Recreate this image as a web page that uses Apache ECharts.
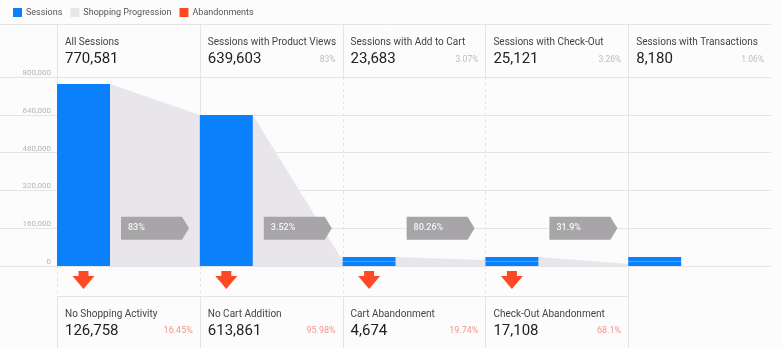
<!DOCTYPE html>
<html>
<head>
<meta charset="utf-8">
<script src="https://cdn.jsdelivr.net/npm/echarts@6/dist/echarts.min.js"></script>
<style>
html,body{margin:0;padding:0;background:#fcfcfd;}
#chart{width:782px;height:348px;}
</style>
</head>
<body>
<div id="chart"></div>
<script>
// ---- data ----
const categories = ['All Sessions', 'Sessions with Product Views', 'Sessions with Add to Cart', 'Sessions with Check-Out', 'Sessions with Transactions'];
const sessions = [770581, 639603, 23683, 25121, 8180];
const sessionPct = ['', '83%', '3.07%', '3.26%', '1.06%'];
const progressionRates = ['83%', '3.52%', '80.26%', '31.9%'];
const abandonNames = ['No Shopping Activity', 'No Cart Addition', 'Cart Abandonment', 'Check-Out Abandonment'];
const abandonValues = [126758, 613861, 4674, 17108];
const abandonPct = ['16.45%', '95.98%', '19.74%', '68.1%'];
const yMin = 0, yMax = 800000, yInterval = 160000;

// ---- styles ----
const FONT = 'Roboto, "Noto Sans", sans-serif';
const BLUE = '#0b80fb';
const GREY = '#e8e6eb';
const RED = '#fd4a25';
const LINE = '#e4e4e8';
const BAR_W = 53;
const MIN_H = 9;

const fmt = v => v.toLocaleString('en-US');

const chart = echarts.init(document.getElementById('chart'), null, {renderer: 'canvas'});

const sessionData = sessions.map(v => {
  if (v < 50000) {
    return {
      value: v,
      itemStyle: {
        color: new echarts.graphic.LinearGradient(0, 0, 0, 1, [
          {offset: 0, color: BLUE}, {offset: 0.42, color: BLUE},
          {offset: 0.42, color: '#4aa2ff'}, {offset: 0.58, color: '#4aa2ff'},
          {offset: 0.58, color: BLUE}, {offset: 1, color: BLUE}
        ])
      }
    };
  }
  return v;
});

function colInfo(api, i) {
  const c = api.coord([i, 0]);
  const w = api.size([1, 0])[0];
  return {left: c[0] - w / 2, right: c[0] + w / 2, w: w, y0: c[1]};
}

function txt(x, y, text, size, color, align, weight) {
  return {
    type: 'text',
    style: {
      x: x, y: y, text: text, fill: color, fontSize: size, fontFamily: FONT,
      fontWeight: weight || 'normal', align: align || 'left', verticalAlign: 'middle'
    }
  };
}
function ln(x1, y1, x2, y2, dashed) {
  return {
    type: 'line',
    shape: {x1: x1, y1: y1, x2: x2, y2: y2},
    style: {stroke: LINE, lineWidth: 1, lineDash: dashed ? [3, 3] : null}
  };
}

const option = {
  backgroundColor: '#fcfcfd',
  animation: false,
  legend: {
    data: ['Sessions', 'Shopping Progression', 'Abandonments'],
    left: 8, top: 3,
    itemWidth: 9, itemHeight: 9, itemGap: 8,
    icon: 'rect',
    textStyle: {fontSize: 9, color: '#555', fontFamily: FONT, padding: [0, 0, 0, -1]}
  },
  grid: [
    {left: 0, width: 57, top: 77, bottom: 82},
    {left: 57, right: 11, top: 77, bottom: 82}
  ],
  xAxis: [
    {gridIndex: 0, type: 'value', show: false},
    {gridIndex: 1, type: 'category', data: categories, boundaryGap: true,
     axisLine: {show: false}, axisTick: {show: false}, axisLabel: {show: false}, splitLine: {show: false}}
  ],
  yAxis: [
    {gridIndex: 0, type: 'value', min: yMin, max: yMax, interval: yInterval, position: 'right',
     axisLine: {show: false}, axisTick: {show: false},
     axisLabel: {inside: true, margin: 6, fontSize: 8, color: '#b5b5b8', fontFamily: FONT,
                 verticalAlign: 'bottom', formatter: v => fmt(v)},
     splitLine: {lineStyle: {color: LINE}}},
    {gridIndex: 1, type: 'value', min: yMin, max: yMax, interval: yInterval,
     axisLine: {show: false}, axisTick: {show: false}, axisLabel: {show: false},
     splitLine: {lineStyle: {color: LINE}}}
  ],
  graphic: [
    {type: 'line', shape: {x1: 0, y1: 24.5, x2: 771, y2: 24.5}, style: {stroke: LINE, lineWidth: 1}, z: 0}
  ],
  series: [
    // column frame + header cards
    {
      type: 'custom', name: 'headers', xAxisIndex: 1, yAxisIndex: 1, clip: false, z: 1, silent: true,
      data: categories.map((c, i) => [i]),
      renderItem: function (params, api) {
        const i = api.value(0);
        const ci = colInfo(api, i);
        const top = params.coordSys.y;
        const x = Math.round(ci.left) + 0.5;
        const children = [
          ln(x, 25, x, top, false),
          ln(x, top, x, ci.y0, i >= 2 && i <= 3),
          ln(x, ci.y0, x, ci.y0 + 30, i <= 3),
          ln(x, ci.y0 + 30, x, 348, false),
          txt(ci.left + 8, top - 35, categories[i], 10, '#444'),
          txt(ci.left + 8, top - 18, fmt(sessions[i]), 15, '#222'),
          txt(ci.right - 7, top - 17, sessionPct[i], 8.5, '#bdbdbd', 'right')
        ];
        return {type: 'group', children: children};
      }
    },
    {
      type: 'bar', name: 'Sessions', xAxisIndex: 1, yAxisIndex: 1, z: 3,
      data: sessionData, barWidth: BAR_W, barGap: 0, barMinHeight: MIN_H,
      itemStyle: {color: BLUE}
    },
    {
      type: 'bar', name: 'spacer', xAxisIndex: 1, yAxisIndex: 1, silent: true,
      data: sessions.map(() => 0), barWidth: 89.8, barGap: 0,
      itemStyle: {color: 'rgba(0,0,0,0)'}
    },
    {
      type: 'custom', name: 'Shopping Progression', xAxisIndex: 1, yAxisIndex: 1, clip: false, z: 2,
      itemStyle: {color: GREY},
      data: progressionRates.map((r, i) => [i, sessions[i], sessions[i + 1]]),
      renderItem: function (params, api) {
        const i = api.value(0);
        const ci = colInfo(api, i);
        const x1 = ci.left + BAR_W;
        const x2 = ci.right;
        const y1 = Math.min(api.coord([i, api.value(1)])[1], ci.y0 - MIN_H);
        const y2 = api.coord([i + 1, api.value(2)])[1];
        const yc = api.coord([i, 160000])[1];
        const tx = x1 + 11;
        return {
          type: 'group',
          children: [
            {type: 'polygon', shape: {points: [[x1, y1], [x2, y2], [x2, ci.y0], [x1, ci.y0]]},
             style: {fill: GREY}},
            {type: 'polygon', shape: {points: [[tx, yc - 11.5], [tx + 61, yc - 11.5], [tx + 68, yc], [tx + 61, yc + 11.5], [tx, yc + 11.5]]},
             style: {fill: '#a7a5a8'}, z2: 5},
            Object.assign(txt(tx + 7, yc, progressionRates[i], 9, '#f6f6f6', 'left', 500), {z2: 6})
          ]
        };
      }
    },
    {
      type: 'custom', name: 'Abandonments', xAxisIndex: 1, yAxisIndex: 1, clip: false, z: 2,
      itemStyle: {color: RED},
      data: abandonValues.map((v, i) => [i, v]),
      renderItem: function (params, api) {
        const i = api.value(0);
        const ci = colInfo(api, i);
        const bc = ci.left + BAR_W / 2;
        const y0 = ci.y0;
        return {
          type: 'group',
          children: [
            {type: 'rect', shape: {x: bc - 5, y: y0 + 5, width: 10, height: 5}, style: {fill: RED}},
            {type: 'polygon', shape: {points: [[bc - 11, y0 + 10], [bc + 11, y0 + 10], [bc, y0 + 23]]}, style: {fill: RED}},
            ln(ci.left, y0 + 30.5, ci.right, y0 + 30.5, false),
            txt(ci.left + 8, y0 + 48, abandonNames[i], 10, '#444'),
            txt(ci.left + 8, y0 + 65, fmt(abandonValues[i]), 15, '#222'),
            txt(ci.right - 7, y0 + 65, abandonPct[i], 9, '#f4958c', 'right')
          ]
        };
      }
    }
  ]
};
chart.setOption(option);
</script>
</body>
</html>
